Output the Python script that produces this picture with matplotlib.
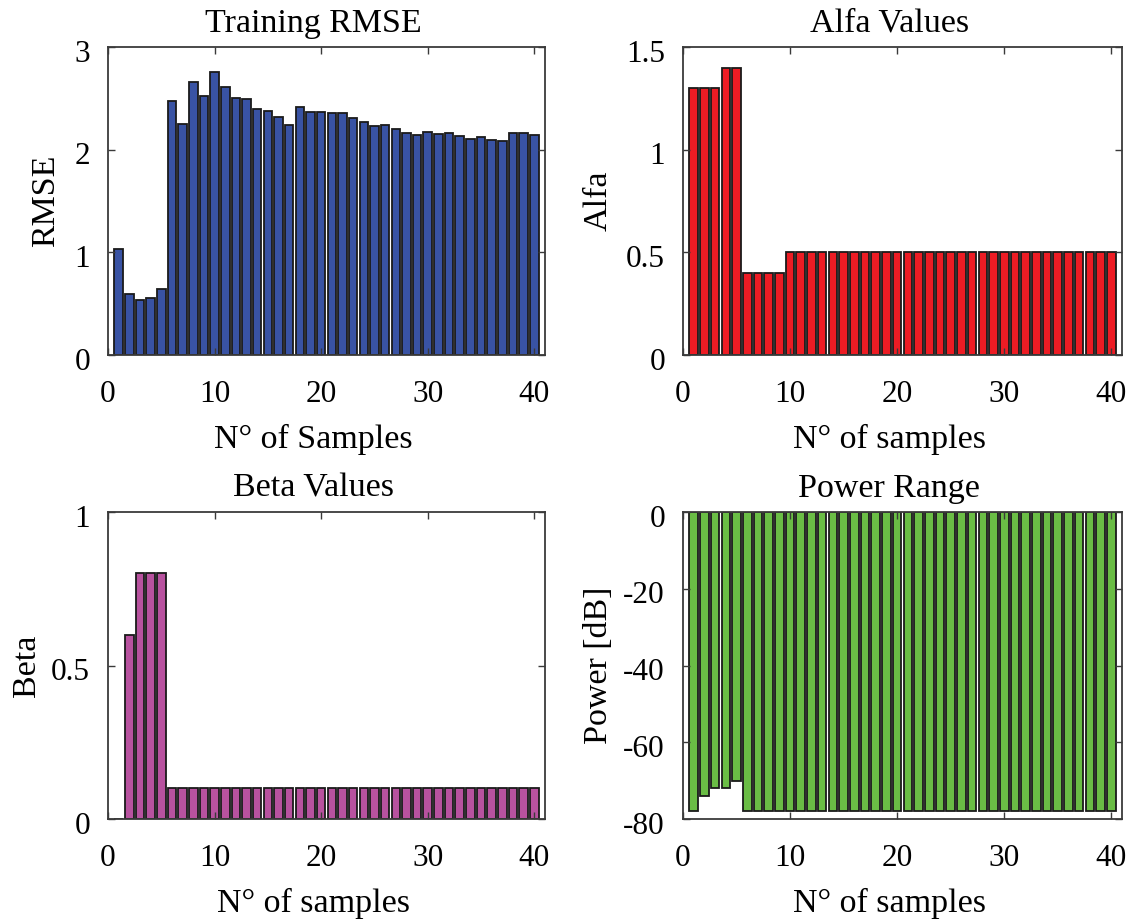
import numpy as np
import matplotlib
matplotlib.use("Agg")
import matplotlib.pyplot as plt
from matplotlib.transforms import ScaledTranslation

plt.rcParams['font.family'] = ['Liberation Serif', 'DejaVu Serif']
plt.rcParams['axes.unicode_minus'] = False

samples = np.arange(1, 41)

rmse = [1.03, 0.59, 0.54, 0.56, 0.64, 2.47, 2.25, 2.66, 2.52, 2.76,
        2.61, 2.50, 2.49, 2.40, 2.38, 2.32, 2.24, 2.42, 2.37, 2.37,
        2.36, 2.36, 2.31, 2.27, 2.23, 2.24, 2.20, 2.16, 2.14, 2.17,
        2.15, 2.16, 2.13, 2.10, 2.12, 2.09, 2.08, 2.16, 2.16, 2.14]

alfa = [1.3, 1.3, 1.3, 1.4, 1.4, 0.4, 0.4, 0.4, 0.4] + [0.5] * 31

beta = [0.0, 0.6, 0.8, 0.8, 0.8] + [0.1] * 35

power = [-78, -74, -72, -72, -70] + [-78] * 35

W, H = 1129, 921
fig = plt.figure(figsize=(W / 100, H / 100), dpi=100)


def axes_px(left, top, right, bottom):
    return fig.add_axes([left / W, 1 - bottom / H, (right - left) / W, (bottom - top) / H])


TICK_FS = 22.5
LABEL_FS = 24.5
EDGE = '#1a1a1a'
FRAME = '#3a3a3a'


def style(ax, title, xlabel, ylabel, ylim, yticks, ylabel_x):
    ax.set_xlim(0, 41)
    ax.set_ylim(*ylim)
    ax.set_xticks([0, 10, 20, 30, 40])
    ax.set_yticks(yticks)
    ax.set_yticklabels([('%g' % t) for t in yticks])
    ax.tick_params(direction='in', length=5, width=1, color=FRAME,
                   top=True, right=True, labelsize=TICK_FS)
    ax.tick_params(axis='x', pad=18)
    ax.tick_params(axis='y', pad=13)
    for s in ax.spines.values():
        s.set_color(FRAME)
        s.set_linewidth(1.3)
    ax.set_title(title, fontsize=LABEL_FS, pad=11, x=0.47)
    ax.set_xlabel(xlabel, fontsize=LABEL_FS)
    ax.set_ylabel(ylabel, fontsize=LABEL_FS)
    ax.xaxis.set_label_coords(0.47, -0.224)
    ax.yaxis.set_label_coords(ylabel_x, 0.5)
    off = ScaledTranslation(0, -2.6 / 72, fig.dpi_scale_trans)
    for lab in ax.get_yticklabels():
        lab.set_transform(lab.get_transform() + off)


bar_kw = dict(width=0.8, edgecolor=EDGE, linewidth=1.3)

ax1 = axes_px(108, 47, 545, 355)
ax1.bar(samples, rmse, color='#3953a4', **bar_kw)
style(ax1, 'Training RMSE', 'N° of Samples', 'RMSE', (0, 3), [0, 1, 2, 3], -0.108)

ax2 = axes_px(683, 47, 1122, 355)
ax2.bar(samples, alfa, color='#ed1c24', **bar_kw)
style(ax2, 'Alfa Values', 'N° of samples', 'Alfa', (0, 1.5), [0, 0.5, 1, 1.5], -0.157)

ax3 = axes_px(108, 512, 545, 819)
ax3.bar(samples, beta, color='#b8529f', **bar_kw)
style(ax3, 'Beta Values', 'N° of samples', 'Beta', (0, 1), [0, 0.5, 1], -0.15)

ax4 = axes_px(683, 512, 1122, 819)
ax4.bar(samples, power, color='#6abd45', **bar_kw)
style(ax4, 'Power Range', 'N° of samples', 'Power [dB]', (-80, 0), [-80, -60, -40, -20, 0], -0.157)

fig.savefig('out.png', dpi=100, facecolor='white')
